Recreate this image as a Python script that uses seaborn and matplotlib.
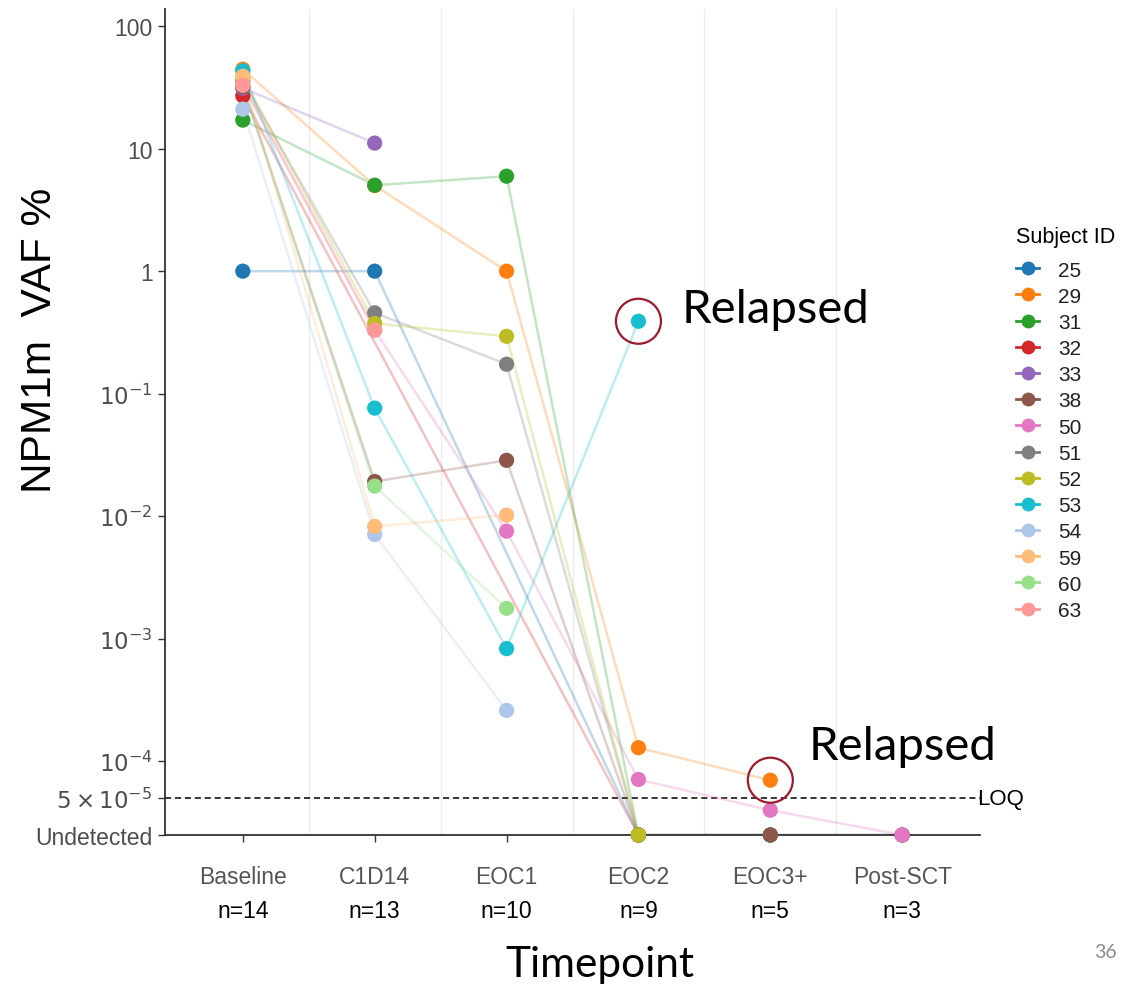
import numpy as np
import pandas as pd
import matplotlib
matplotlib.use("Agg")
import matplotlib.pyplot as plt
import matplotlib.transforms as mtransforms
from matplotlib.lines import Line2D
import seaborn as sns

# ---------------- data ----------------
timepoints = ["Baseline", "C1D14", "EOC1", "EOC2", "EOC3+", "Post-SCT"]
n_labels = ["n=14", "n=13", "n=10", "n=9", "n=5", "n=3"]
subjects = ["25", "29", "31", "32", "33", "38", "50", "51", "52", "53", "54", "59", "60", "63"]
UND = 2.5e-5      # plotting level used for "Undetected"
LOQ = 5e-5
U = "U"           # undetected marker in the tables below; None = not sampled

s25 = [1.0, 1.0, None, U, U, U]
s29 = [44.5, 5.0, 1.0, 1.29e-4, 7.0e-5, None]
s31 = [17.1, 5.03, 5.96, U, U, None]
s32 = [27.0, None, None, U, None, None]
s33 = [31.2, 11.1, None, None, None, None]
s38 = [32.0, 0.0192, 0.0286, U, U, U]
s50 = [34.0, 0.33, 0.00755, 7.1e-5, 3.98e-5, U]
s51 = [36.0, 0.457, 0.174, U, None, None]
s52 = [38.0, 0.375, 0.294, U, None, None]
s53 = [43.2, 0.0763, 0.00083, 0.39, None, None]
s54 = [21.0, 0.0071, 0.00026, None, None, None]
s59 = [39.0, 0.00826, 0.0102, None, None, None]
s60 = [33.0, 0.0176, 0.00177, None, None, None]
s63 = [33.0, 0.331, None, None, None, None]
series = [s25, s29, s31, s32, s33, s38, s50, s51, s52, s53, s54, s59, s60, s63]

relapsed_points = [("EOC2", 0.39), ("EOC3+", 7.0e-5)]

palette = {
    "25": "#1f77b4", "29": "#ff7f0e", "31": "#2ca02c", "32": "#d62728",
    "33": "#9467bd", "38": "#8c564b", "50": "#e377c2", "51": "#7f7f7f",
    "52": "#bcbd22", "53": "#17becf", "54": "#aec7e8", "59": "#ffbb78",
    "60": "#98df8a", "63": "#ff9896",
}

rows = []
for sid, vals in zip(subjects, series):
    for i, v in enumerate(vals):
        if v is None:
            continue
        rows.append({"subject": sid, "pos": i, "vaf": UND if v == U else v})
df = pd.DataFrame(rows)

# ---------------- figure ----------------
W, H = 1132, 987
fig = plt.figure(figsize=(W / 100, H / 100), dpi=100)
fig.patch.set_facecolor("white")
ax = fig.add_axes([165 / W, 1 - 836 / H, (980 - 165) / W, (836 - 10) / H])
ax.set_facecolor("white")

plt.rcParams["mathtext.fontset"] = "custom"
plt.rcParams["mathtext.rm"] = "Liberation Sans"
plt.rcParams["mathtext.it"] = "Liberation Sans:italic"

for gx in np.arange(len(timepoints) - 1) + 0.5:
    ax.axvline(gx, color="#ececec", lw=1, zorder=0)

ax.axhline(LOQ, color="black", lw=1.1, ls=(0, (4, 2.5)), zorder=1)

sns.lineplot(data=df, x="pos", y="vaf", hue="subject", palette=palette,
             hue_order=subjects, estimator=None, sort=True, lw=1.8, alpha=0.28,
             legend=False, ax=ax, zorder=2)
sns.scatterplot(data=df, x="pos", y="vaf", hue="subject", palette=palette,
                hue_order=subjects, s=120, linewidth=0, legend=False, ax=ax,
                zorder=3, clip_on=False)

# relapse circles
for tp, v in relapsed_points:
    ax.scatter([timepoints.index(tp)], [v], s=1050, facecolors="none",
               edgecolors="#9b1b2d", linewidths=1.6, zorder=4, clip_on=False)

ax.set_yscale("log")
ax.set_ylim(UND, 138)
ax.set_xlim(-0.59, 5.59)
ax.yaxis.set_minor_locator(matplotlib.ticker.NullLocator())

yticks = [100, 10, 1, 0.1, 0.01, 1e-3, 1e-4, LOQ, UND]
ylabels = ["100", "10", "1", r"$10^{-1}$", r"$10^{-2}$", r"$10^{-3}$",
           r"$10^{-4}$", r"$5\times10^{-5}$", "Undetected"]
ax.set_yticks(yticks)
ax.set_yticklabels(ylabels, fontsize=16.5, color="#4d4d4d", family="Liberation Sans")
ax.set_xticks(range(len(timepoints)))
ax.set_xticklabels([""] * len(timepoints))
ax.tick_params(axis="both", length=5, width=1, color="#333333", pad=4)
ax.set_xlabel("")
ax.set_ylabel("")

for side in ["top", "right"]:
    ax.spines[side].set_visible(False)
for side in ["left", "bottom"]:
    ax.spines[side].set_color("#333333")
    ax.spines[side].set_linewidth(1.3)

# x tick labels: name + n
trans = mtransforms.blended_transform_factory(ax.transData, fig.transFigure)
for i, (tp, nl) in enumerate(zip(timepoints, n_labels)):
    ax.text(i, 1 - 878 / H, tp, transform=trans, ha="center", va="center",
            fontsize=16.5, color="#555555", family="Liberation Sans")
    ax.text(i, 1 - 912 / H, nl, transform=trans, ha="center", va="center",
            fontsize=16.5, color="black", family="Liberation Sans")

# LOQ label
transL = mtransforms.blended_transform_factory(ax.transAxes, ax.transData)
ax.text(0.997, LOQ, "LOQ", transform=transL, ha="left", va="center",
        fontsize=16, color="black", family="Liberation Sans")

# Relapsed annotations
fig.text(682 / W, 1 - 323 / H, "Relapsed", ha="left", va="baseline",
         fontsize=34, family="Lato", color="black")
fig.text(809 / W, 1 - 760 / H, "Relapsed", ha="left", va="baseline",
         fontsize=34, family="Lato", color="black")

# axis titles
fig.text(40 / W, 1 - 340 / H, "NPM1m  VAF %", rotation=90, ha="center",
         va="center", fontsize=30.5, family="Liberation Sans", color="black")
fig.text(600 / W, 1 - 977 / H, "Timepoint", ha="center", va="baseline",
         fontsize=30.5, family="Lato", color="black")

# slide number
fig.text(1105 / W, 1 - 953 / H, "36", ha="center", va="center",
         fontsize=14, family="Lato", color="#8a8a8a")

# legend
handles = [Line2D([0], [0], color=palette[s], marker="o", markersize=10,
                  lw=2, markeredgewidth=0) for s in subjects]
leg = fig.legend(handles, subjects, title="Subject ID", loc="upper left",
                 bbox_to_anchor=(1008 / W, 1 - 219 / H), frameon=False,
                 fontsize=15, title_fontsize=15.5, handlelength=1.1,
                 handletextpad=0.9, labelspacing=0.345, borderaxespad=0)
leg._legend_box.align = "left"
leg._legend_box.sep = 9.5
for t in leg.get_texts():
    t.set_family("Liberation Sans")
    t.set_color("#222222")
leg.get_title().set_family("Liberation Sans")

fig.savefig("out.png", dpi=100, facecolor="white")
